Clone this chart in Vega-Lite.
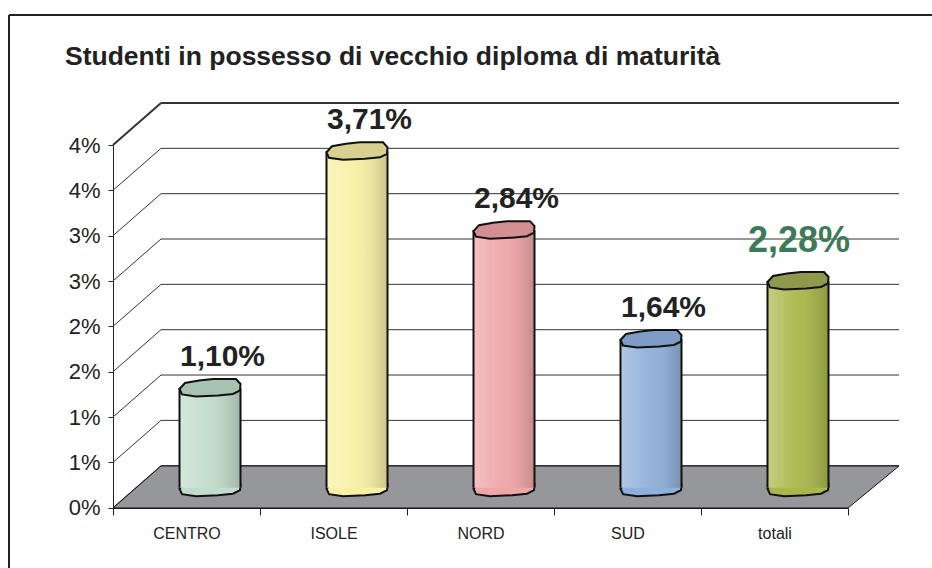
{
  "$schema": "https://vega.github.io/schema/vega-lite/v6.json",
  "width": 923,
  "height": 553,
  "autosize": {"type": "none"},
  "padding": {"left": 9, "top": 15, "right": 0, "bottom": 0},
  "background": "white",
  "title": {
    "text": "Studenti in possesso di vecchio diploma di maturità",
    "anchor": "start",
    "frame": "group",
    "dx": 56,
    "offset": -76,
    "baseline": "alphabetic",
    "font": "Liberation Sans",
    "fontSize": 26.5,
    "fontWeight": "bold",
    "color": "#222222"
  },
  "datasets": {
    "regioni": [
      {"regione": "CENTRO", "quota": 0.011},
      {"regione": "ISOLE", "quota": 0.0371},
      {"regione": "NORD", "quota": 0.0284},
      {"regione": "SUD", "quota": 0.0164},
      {"regione": "totali", "quota": 0.0228}
    ],
    "tacche": [
      {"livello": 0}, {"livello": 0.005}, {"livello": 0.01}, {"livello": 0.015},
      {"livello": 0.02}, {"livello": 0.025}, {"livello": 0.03}, {"livello": 0.035},
      {"livello": 0.04}
    ]
  },
  "layer": [
    {
      "data": {"name": "regioni"},
      "mark": {"type": "bar", "width": 61, "xOffset": 23.5, "yOffset": -20, "y2Offset": -20, "opacity": 0},
      "encoding": {
        "x": {
          "field": "regione", "type": "nominal", "sort": null,
          "scale": {"domain": ["CENTRO", "ISOLE", "NORD", "SUD", "totali"], "range": [104, 839], "paddingInner": 0, "paddingOuter": 0},
          "axis": {"orient": "bottom", "offset": -60, "title": null, "labelAngle": 0, "labelFont": "Liberation Sans", "labelFontSize": 16, "labelColor": "#222222", "labelPadding": 10, "tickSize": 7, "tickBand": "extent", "domain": true, "domainColor": "#222222", "tickColor": "#222222", "grid": false}
        },
        "y": {
          "field": "quota", "type": "quantitative",
          "scale": {"domain": [0, 0.04], "range": [492.7, 130], "nice": false, "zero": true},
          "axis": {"values": [0, 0.005, 0.01, 0.015, 0.02, 0.025, 0.03, 0.035, 0.04], "labelExpr": "round(datum.value*100) + '%'", "offset": -104, "title": null, "grid": false, "labelFont": "Liberation Sans", "labelFontSize": 22, "labelColor": "#222222", "labelPadding": 8, "tickSize": 5, "tickColor": "#222222", "domainColor": "#222222"}
        },
        "y2": {"datum": 0}
      }
    },
    {
      "data": {"name": "tacche"},
      "mark": {"type": "rule", "xOffset": 48, "x2Offset": 51, "yOffset": -42, "color": "#333333"},
      "encoding": {
        "x": {"datum": "CENTRO", "bandPosition": 0},
        "x2": {"datum": "totali", "bandPosition": 1},
        "y": {"field": "livello", "type": "quantitative"},
        "strokeWidth": {"condition": {"test": "datum.livello >= 0.04", "value": 2}, "value": 1}
      }
    },
    {
      "data": {"name": "tacche"},
      "mark": {"type": "rule", "x2Offset": 48, "y2Offset": -42, "color": "#333333"},
      "encoding": {
        "x": {"datum": "CENTRO", "bandPosition": 0},
        "x2": {"datum": "CENTRO", "bandPosition": 0},
        "y": {"field": "livello", "type": "quantitative"},
        "y2": {"field": "livello"},
        "strokeWidth": {"condition": {"test": "datum.livello >= 0.04", "value": 2}, "value": 1}
      }
    },
    {
      "data": {"name": "regioni"},
      "transform": [{"filter": "datum.regione === 'NORD'"}],
      "mark": {"type": "point", "filled": true, "opacity": 1, "fill": "#96979a", "stroke": "#111111", "strokeWidth": 1, "size": 40000, "xOffset": 25.5, "yOffset": -20.7, "shape": "M-3.93,0.21L3.42,0.21L3.93,-0.21L-3.45,-0.21Z"},
      "encoding": {
        "x": {"field": "regione", "type": "nominal"},
        "y": {"datum": 0}
      }
    },
    {
      "data": {"name": "regioni"},
      "mark": {"type": "point", "filled": true, "opacity": 1, "strokeWidth": 2, "size": 400, "xOffset": 23.5, "yOffset": -20, "shape": "M-3.05,0.1L-2.5,-0.5L-1.1,-0.75L0.3,-0.9L2.6,-0.9L3.05,-0.4L3.0,0.25L2.3,0.6L0.8,0.75L-1.4,0.85L-2.8,0.65Z"},
      "encoding": {
        "x": {"field": "regione", "type": "nominal"},
        "y": {"datum": 0},
        "color": {"field": "regione", "type": "nominal", "scale": {"domain": ["CENTRO", "ISOLE", "NORD", "SUD", "totali"], "range": ["#c2dccb", "#f8f0a4", "#f0a6a9", "#8fb0da", "#a9b84b"]}, "legend": null},
        "stroke": {"value": "#111111"}
      }
    },
    {
      "data": {"name": "regioni"},
      "mark": {"type": "bar", "width": 61, "xOffset": 23.5, "yOffset": -20, "y2Offset": -20},
      "encoding": {
        "x": {"field": "regione", "type": "nominal"},
        "y": {"field": "quota", "type": "quantitative"},
        "y2": {"datum": 0},
        "color": {"field": "regione", "type": "nominal", "legend": null}
      }
    },
    {
      "data": {"name": "regioni"},
      "mark": {"type": "bar", "width": 61, "xOffset": 23.5, "yOffset": -20, "y2Offset": -20,
        "fill": {"gradient": "linear", "x1": 0, "y1": 0, "x2": 1, "y2": 0, "stops": [
          {"offset": 0, "color": "rgba(255,255,255,0.3)"},
          {"offset": 0.45, "color": "rgba(255,255,255,0.05)"},
          {"offset": 1, "color": "rgba(0,0,0,0.18)"}
        ]}},
      "encoding": {
        "x": {"field": "regione", "type": "nominal"},
        "y": {"field": "quota", "type": "quantitative"},
        "y2": {"datum": 0}
      }
    },
    {
      "data": {"name": "regioni"},
      "mark": {"type": "rule", "xOffset": -7, "yOffset": -20, "y2Offset": -20, "color": "#111111", "strokeWidth": 2},
      "encoding": {
        "x": {"field": "regione", "type": "nominal"},
        "y": {"field": "quota", "type": "quantitative"},
        "y2": {"datum": 0}
      }
    },
    {
      "data": {"name": "regioni"},
      "mark": {"type": "rule", "xOffset": 54, "yOffset": -20, "y2Offset": -20, "color": "#111111", "strokeWidth": 2},
      "encoding": {
        "x": {"field": "regione", "type": "nominal"},
        "y": {"field": "quota", "type": "quantitative"},
        "y2": {"datum": 0}
      }
    },
    {
      "data": {"name": "regioni"},
      "mark": {"type": "point", "filled": true, "opacity": 1, "strokeWidth": 2, "size": 400, "xOffset": 23.5, "yOffset": -20, "shape": "M-3.05,0.1L-2.5,-0.5L-1.1,-0.75L0.3,-0.9L2.6,-0.9L3.05,-0.4L3.0,0.25L2.3,0.6L0.8,0.75L-1.4,0.85L-2.8,0.65Z"},
      "encoding": {
        "x": {"field": "regione", "type": "nominal"},
        "y": {"field": "quota", "type": "quantitative"},
        "fill": {"field": "regione", "type": "nominal", "scale": {"domain": ["CENTRO", "ISOLE", "NORD", "SUD", "totali"], "range": ["#a8c3b2", "#d8d090", "#d48f92", "#7f9cc6", "#8e994c"]}, "legend": null},
        "stroke": {"value": "#111111"}
      }
    },
    {
      "data": {"name": "regioni"},
      "transform": [{"filter": "datum.regione !== 'totali'"}],
      "mark": {"type": "text", "font": "Liberation Sans", "fontWeight": "bold", "fontSize": 30, "color": "#222222", "baseline": "alphabetic", "align": "center", "xOffset": 36, "yOffset": -42},
      "encoding": {
        "x": {"field": "regione", "type": "nominal"},
        "y": {"field": "quota", "type": "quantitative"},
        "text": {"field": "quota", "type": "quantitative", "format": ".2%"}
      }
    },
    {
      "data": {"name": "regioni"},
      "transform": [{"filter": "datum.regione === 'totali'"}],
      "mark": {"type": "text", "font": "Liberation Sans", "fontWeight": "bold", "fontSize": 36, "color": "#3d7a58", "baseline": "alphabetic", "align": "center", "xOffset": 24.5, "yOffset": -49},
      "encoding": {
        "x": {"field": "regione", "type": "nominal"},
        "y": {"field": "quota", "type": "quantitative"},
        "text": {"field": "quota", "type": "quantitative", "format": ".2%"}
      }
    }
  ],
  "config": {
    "view": {"stroke": "#222222", "strokeWidth": 2, "strokeDash": [923, 1476, 553, 0]},
    "locale": {"number": {"decimal": ",", "thousands": ".", "grouping": [3], "currency": ["", " €"]}}
  }
}
